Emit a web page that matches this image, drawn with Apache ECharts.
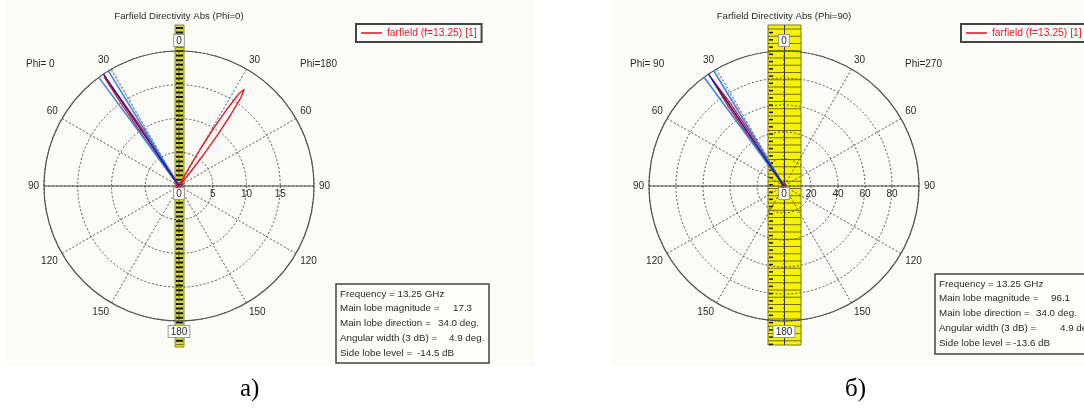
<!DOCTYPE html>
<html><head><meta charset="utf-8">
<script src="https://cdn.jsdelivr.net/npm/echarts@6/dist/echarts.min.js"></script>
<style>html,body{margin:0;padding:0;background:#fff}#c{width:1084px;height:408px}</style>
</head><body><div id="c"></div>
<script>
// ---------------- data ----------------
const titles = ['Farfield Directivity Abs (Phi=0)', 'Farfield Directivity Abs (Phi=90)'];
const phiLeftLabels = ['Phi= 0', 'Phi= 90'];
const phiRightLabels = ['Phi=180', 'Phi=270'];
const legendName = 'farfield (f=13.25) [1]';
const captions = ['а)', 'б)'];

const radiusMax = [20, 100];
const radiusStep = [5, 20];
const angleStep = 30;

// signed theta in degrees: negative = left half, positive = right half
const thetaA = [-180,-150,-120,-90,-60,-45,-40,-38,-37,-36,-35,-34.5,-34,-33,-32,-31,-30,-25,-15,-5,0,5,15,25,28,29,30,31,32,33,34,35,36,37,38,39,40,42,50,70,90,120,150,180];
const rA     = [0.2,0.3,0.4,0.5,0.4,0.5,0.6,1.0,3.0,8.0,15.0,19.6,17.0,11.0,5.0,2.0,0.8,0.5,0.4,0.6,0.5,0.6,0.4,0.6,1.5,3.5,6.5,10.0,13.5,16.3,17.3,16.0,13.0,9.5,6.0,3.2,1.5,0.6,0.5,0.4,0.5,0.3,0.2,0.2];

const thetaB = [-180,-150,-120,-90,-60,-45,-40,-37,-36,-35,-34,-33,-32,-31,-28,-20,-10,0,10,20,30,45,60,90,120,150,180];
const rB     = [1,1.5,2,2.5,2,3,4,6,30,72,96.1,74,32,6,3,2,2.5,3,2.5,2,2,2.5,2,1.5,1.5,1,1];

// beam markers (signed theta)
const mainDir = [-34.0, -34.0];
const widthEdgesA = [-36.45, -31.55];
const widthEdgesB = [-36.3, -31.4];
const dottedMarker = [-30.4, -30.7];

const infoLabels = ['Frequency = 13.25 GHz', 'Main lobe magnitude =', 'Main lobe direction =', 'Angular width (3 dB) =', 'Side lobe level ='];
const infoValuesA = ['', '17.3', '34.0 deg.', '4.9 deg.', '-14.5 dB'];
const infoValuesB = ['', '96.1', '34.0 deg.', '4.9 deg.', '-13.6 dB'];

// ---------------- layout / style ----------------
const FONT = 'Liberation Sans';
const centers = [[179, 186], [784, 186]];
const R = 135;
const RED = '#e01c28', DARK = '#1c1ca0', LIGHT = '#3a84dc', GRID = '#444';
const TXT = '#2a2a2a';

function toV(t) { return (((t - 90) % 360) + 360) % 360; }
function curve(th, r) { return th.map((t, i) => [r[i], toV(t)]); }
function ray(t, rmax) { return [[0, toV(t)], [rmax, toV(t)]]; }

const boxRich = { box: { backgroundColor: '#fff', borderColor: '#9a9a9a', borderWidth: 1, padding: [1, 2, 0, 2], color: TXT, fontSize: 10, fontFamily: FONT } };

const polar = centers.map(c => ({ center: c, radius: R }));
const angleAxis = [0, 1].map(i => ({
  polarIndex: i, type: 'value', min: 0, max: 360, interval: angleStep,
  startAngle: 0, clockwise: true, z: 1,
  axisLine: { show: true, lineStyle: { color: '#555', width: 1.2 } },
  axisTick: { show: false },
  axisLabel: {
    margin: 5, color: TXT, fontSize: 10, fontFamily: FONT, rich: boxRich,
    formatter: v => {
      if (v >= 360) return '';
      const c = (v + 90) % 360;
      const lab = c <= 180 ? c : 360 - c;
      return (lab === 0 || lab === 180) ? '{box|' + lab + '}' : String(lab);
    }
  },
  splitLine: { show: true, lineStyle: { color: GRID, width: 0.9, type: [2, 2] } }
}));
const radiusAxis = [0, 1].map(i => ({
  polarIndex: i, type: 'value', min: 0, max: radiusMax[i], interval: radiusStep[i], z: 1,
  axisLine: { show: false },
  axisTick: { show: false },
  axisLabel: {
    margin: -13, color: TXT, fontSize: 10, fontFamily: FONT, rich: boxRich,
    formatter: v => v >= radiusMax[i] ? '' : (v === 0 ? '{box|0}' : String(v))
  },
  splitLine: { show: true, lineStyle: { color: GRID, width: 0.9, type: [2, 2] } }
}));

function lineSeries(name, data, pi, color, width, type, z) {
  return { name, type: 'line', coordinateSystem: 'polar', polarIndex: pi, data,
    symbol: 'none', smooth: false, silent: true, z: z || 3, animation: false,
    itemStyle: { color }, lineStyle: { color, width, type: type || 'solid' } };
}
const series = [
  lineSeries(legendName, curve(thetaA, rA), 0, RED, 1.4),
  lineSeries(legendName, curve(thetaB, rB), 1, RED, 1.4),
];
const edges = [widthEdgesA, widthEdgesB];
[0, 1].forEach(i => {
  series.push(lineSeries('dotted' + i, ray(dottedMarker[i], radiusMax[i]), i, '#6aa8ec', 1, [2, 2], 4));
  edges[i].forEach((t, k) => series.push(lineSeries('edge' + i + k, ray(t, radiusMax[i]), i, LIGHT, 1.5, 'solid', 4)));
  series.push(lineSeries('main' + i, ray(mainDir[i], radiusMax[i]), i, DARK, 1.6, 'solid', 5));
});

// ---------------- decoration (graphic) ----------------
const g = [];
g.push({ type: 'rect', shape: { x: 5, y: 0, width: 530, height: 366 }, style: { fill: '#fbfbf8' }, z: -10 });
g.push({ type: 'rect', shape: { x: 612, y: 0, width: 472, height: 366 }, style: { fill: '#fbfbf8' }, z: -10 });
// strip a
g.push({ type: 'rect', shape: { x: 175, y: 25, width: 9, height: 322 }, style: { fill: '#dada2c', stroke: '#8c8c20', lineWidth: 1 }, z: -5 });
g.push({ type: 'line', shape: { x1: 179.5, y1: 27, x2: 179.5, y2: 345 }, style: { stroke: '#151515', lineWidth: 7, lineDash: [2, 2.6] }, z: -4 });
// strip b
g.push({ type: 'rect', shape: { x: 768, y: 25, width: 33, height: 320 }, style: { fill: '#f7f300', stroke: '#7a7a10', lineWidth: 1 }, z: -5 });
for (let y = 29; y < 345; y += 7.25) {
  g.push({ type: 'line', shape: { x1: 768, y1: y, x2: 801, y2: y }, style: { stroke: '#3a3a10', lineWidth: 0.7 }, z: -4 });
  g.push({ type: 'line', shape: { x1: 769, y1: y + 3.6, x2: 773, y2: y + 3.6 }, style: { stroke: '#111', lineWidth: 1.5 }, z: -4 });
}
g.push({ type: 'line', shape: { x1: 784.5, y1: 25, x2: 784.5, y2: 345 }, style: { stroke: '#333', lineWidth: 1 }, z: -4 });
// horizontal diameters (solid 90-90 line)
centers.forEach(c => g.push({ type: 'line', shape: { x1: c[0] - R, y1: c[1], x2: c[0] + R, y2: c[1] }, style: { stroke: '#555', lineWidth: 1.1 }, z: 2 }));

const txt = (text, x, y, opts) => Object.assign({ type: 'text', x, y, z: 20,
  style: Object.assign({ text, fill: TXT, font: '10px "' + FONT + '"', align: 'left', verticalAlign: 'middle' }, (opts && opts.style) || {}) });
[0, 1].forEach(i => {
  const c = centers[i];
  g.push(txt(titles[i], c[0], 16, { style: { align: 'center', font: '9.6px "' + FONT + '"' } }));
});
g.push(txt(phiLeftLabels[0], 26, 64));
g.push(txt(phiRightLabels[0], 300, 64));
g.push(txt(phiLeftLabels[1], 630, 64));
g.push(txt(phiRightLabels[1], 905, 64));

// info boxes
function infoBox(x, y, w, h, ys, valX, vals) {
  g.push({ type: 'rect', shape: { x, y, width: w, height: h }, style: { fill: '#fdfdfb', stroke: '#444', lineWidth: 1.5 }, z: 18 });
  infoLabels.forEach((l, k) => {
    g.push(txt(l, x + 4, ys[k], { style: { font: '9.8px "' + FONT + '"' } }));
    if (vals[k]) g.push(txt(vals[k], valX[k], ys[k], { style: { font: '9.8px "' + FONT + '"' } }));
  });
}
infoBox(336, 284, 153, 79, [294, 308.5, 323, 338, 353], [0, 453, 438, 449, 417], infoValuesA);
infoBox(935, 274, 200, 80, [284, 298.5, 313, 328, 343], [0, 1051, 1036, 1060, 1013], infoValuesB);

g.push(txt(captions[0], 240, 389, { style: { fill: '#000', font: '25px "Liberation Serif"' } }));
g.push(txt(captions[1], 845, 389, { style: { fill: '#000', font: '25px "Liberation Serif"' } }));

const legendBase = {
  data: [legendName], orient: 'horizontal', icon: 'rect', itemWidth: 21, itemHeight: 1.6,
  padding: [4, 5, 4, 5], borderColor: '#444', borderWidth: 2, backgroundColor: '#fdfdfb',
  textStyle: { color: RED, fontSize: 10.3, fontFamily: FONT }, selectedMode: false, z: 20
};

const chart = echarts.init(document.getElementById('c'), null, { renderer: 'canvas' });
chart.setOption({
  backgroundColor: '#fff',
  animation: false,
  polar, angleAxis, radiusAxis, series,
  legend: [Object.assign({ left: 356, top: 24 }, legendBase), Object.assign({ left: 961, top: 24 }, legendBase)],
  graphic: { elements: g }
});
</script></body></html>
